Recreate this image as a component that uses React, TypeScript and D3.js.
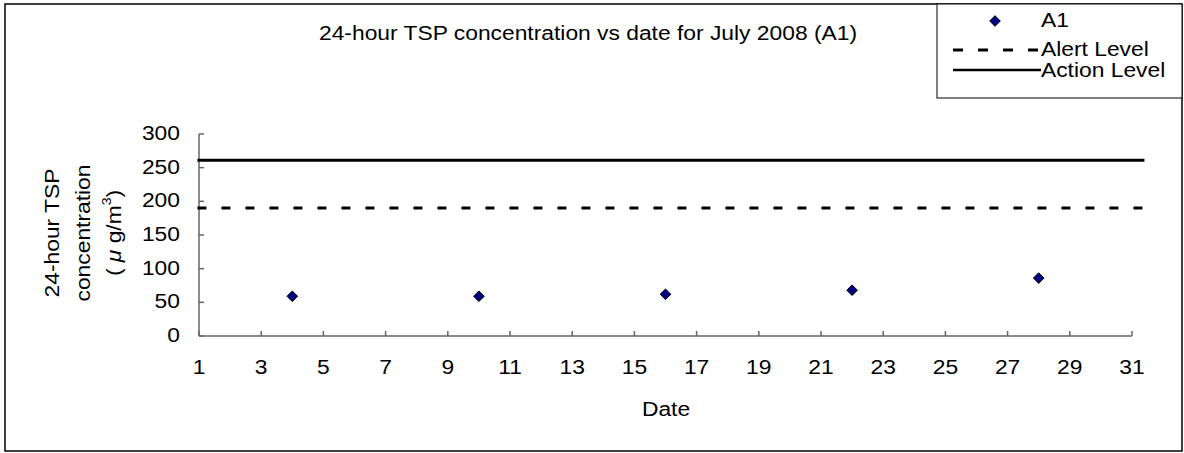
import React from "react";
import * as d3 from "d3";

const dates = [4, 10, 16, 22, 28];
const a1Values = [59, 59, 62, 68, 86];
const alertLevel = 190;
const actionLevel = 261;
const levelExtent = [0.95, 31.4];
const xTicks = d3.range(1, 32, 2);
const yTicks = [0, 50, 100, 150, 200, 250, 300];
const legendLabels = ["A1", "Alert Level", "Action Level"];
const titleText = "24-hour TSP concentration vs date for July 2008 (A1)";
const yTitle = ["24-hour TSP", "concentration"];

const FONT = "Arial, 'Liberation Sans', sans-serif";
const FS = 19.5;
const SX = 1.17;

function Txt({ x, y, anchor = "start", rot = 0, children, size = FS }: any) {
  return (
    <text
      transform={`translate(${x},${y}) rotate(${rot}) scale(${SX},1)`}
      textAnchor={anchor}
      dominantBaseline="central"
      fontFamily={FONT}
      fontSize={size}
      fill="#000"
    >
      {children}
    </text>
  );
}

export default function App() {
  const W = 1184, H = 453;
  const x = d3.scaleLinear().domain([1, 31]).range([199, 1132]);
  const y = d3.scaleLinear().domain([0, 300]).range([336, 134]);
  const diamond = d3.symbol().type(d3.symbolDiamond2).size(72)();
  const levelLine = d3.line<number>().x((d) => x(d));
  const axisColor = "#666";

  return (
    <svg width={W} height={H} style={{ position: "absolute", left: 0, top: 0 }}>
      <rect x={0} y={0} width={W} height={H} fill="#fff" />
      <rect x={5} y={4} width={1177} height={447} fill="none" stroke="#000" strokeWidth={1.5} />

      <Txt x={588} y={33} anchor="middle">{titleText}</Txt>

      {/* y axis */}
      <line x1={x(1)} x2={x(1)} y1={y(300)} y2={y(0)} stroke={axisColor} strokeWidth={1.5} />
      {yTicks.map((t) => (
        <g key={"y" + t}>
          <line x1={x(1)} x2={x(1) + 5} y1={y(t)} y2={y(t)} stroke={axisColor} strokeWidth={1.5} />
          <Txt x={180} y={y(t) - 1} anchor="end">{t}</Txt>
        </g>
      ))}
      {/* x axis */}
      <line x1={x(1)} x2={x(31)} y1={y(0)} y2={y(0)} stroke={axisColor} strokeWidth={1.5} />
      {xTicks.map((t) => (
        <g key={"x" + t}>
          <line x1={x(t)} x2={x(t)} y1={y(0)} y2={y(0) - 5} stroke={axisColor} strokeWidth={1.5} />
          <Txt x={x(t)} y={367} anchor="middle">{t}</Txt>
        </g>
      ))}
      <Txt x={666} y={409} anchor="middle">Date</Txt>

      {/* y title */}
      <Txt x={52} y={233} anchor="middle" rot={-90}>{yTitle[0]}</Txt>
      <Txt x={83} y={233} anchor="middle" rot={-90}>{yTitle[1]}</Txt>
      <text
        transform={`translate(114,233) rotate(-90) scale(${SX},1)`}
        textAnchor="middle"
        dominantBaseline="central"
        fontFamily={FONT}
        fontSize={FS}
      >
        ( <tspan fontStyle="italic">μ</tspan> g/m<tspan baselineShift="super" fontSize={12}>3</tspan>)
      </text>

      {/* level lines */}
      <path
        d={levelLine.y(() => y(actionLevel))(levelExtent) || ""}
        stroke="#000"
        strokeWidth={3}
        fill="none"
      />
      <path
        d={levelLine.y(() => y(alertLevel))(levelExtent) || ""}
        stroke="#000"
        strokeWidth={3}
        strokeDasharray="9 15"
        fill="none"
      />

      {/* points */}
      {dates.map((d, i) => (
        <path
          key={"p" + i}
          d={diamond}
          transform={`translate(${x(d)},${y(a1Values[i])})`}
          fill="#000080"
          stroke="#000"
          strokeWidth={1}
        />
      ))}

      {/* legend */}
      <rect x={937} y={4} width={245} height={94} fill="#fff" stroke="#000" strokeWidth={1} />
      <path d={diamond} transform="translate(995,21)" fill="#000080" stroke="#000" strokeWidth={1} />
      <Txt x={1041} y={20}>{legendLabels[0]}</Txt>
      <line x1={953} x2={1041} y1={50} y2={50} stroke="#000" strokeWidth={3} strokeDasharray="10 15" />
      <Txt x={1041} y={49}>{legendLabels[1]}</Txt>
      <line x1={953} x2={1041} y1={70} y2={70} stroke="#000" strokeWidth={2.5} />
      <Txt x={1041} y={70}>{legendLabels[2]}</Txt>
    </svg>
  );
}
